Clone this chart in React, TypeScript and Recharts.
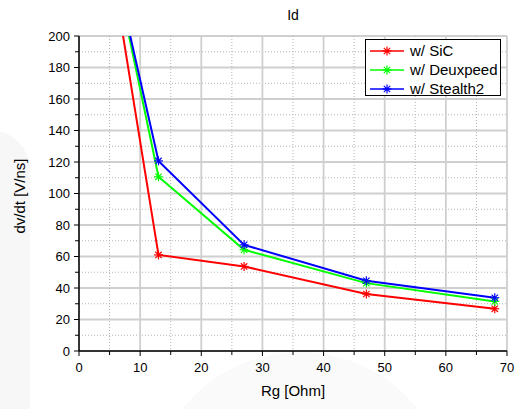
import React from 'react';
import { LineChart, Line, XAxis, YAxis, CartesianGrid } from 'recharts';

const rg = [5, 13, 27, 47, 68];
const sic = [253, 61, 53.7, 36.2, 26.8];
const deuxpeed = [259, 110.6, 64.3, 43.1, 31.5];
const stealth2 = [258, 120.7, 67.4, 44.6, 33.8];

const xTicks = [0, 5, 10, 15, 20, 25, 30, 35, 40, 45, 50, 55, 60, 65, 70];
const yTicks = [0, 10, 20, 30, 40, 50, 60, 70, 80, 90, 100, 110, 120, 130, 140, 150, 160, 170, 180, 190, 200];

const seriesKeys = ['sic', 'deuxpeed', 'stealth2'];
const seriesNames = ['w/ SiC', 'w/ Deuxpeed', 'w/ Stealth2'];
const seriesColors = ['#ff0000', '#00ff00', '#0000ff'];

const title = 'Id';
const xTitle = 'Rg [Ohm]';
const yTitle = 'dv/dt [V/ns]';

const data = rg.map((x, i) => ({ rg: x, sic: sic[i], deuxpeed: deuxpeed[i], stealth2: stealth2[i] }));

const FONT = '"Liberation Sans", Arial, sans-serif';

const Star = ({ cx, cy, color, r = 4.5 }: any) => {
  if (cx == null || cy == null) return <g />;
  const d = r * 0.7071;
  return (
    <g>
      <line x1={cx - r} y1={cy} x2={cx + r} y2={cy} stroke={color} strokeWidth={1.2} />
      <line x1={cx} y1={cy - r} x2={cx} y2={cy + r} stroke={color} strokeWidth={1.2} />
      <line x1={cx - d} y1={cy - d} x2={cx + d} y2={cy + d} stroke={color} strokeWidth={1.2} />
      <line x1={cx - d} y1={cy + d} x2={cx + d} y2={cy - d} stroke={color} strokeWidth={1.2} />
      <circle cx={cx} cy={cy} r={1.6} fill={color} />
    </g>
  );
};

const makeDot = (color: string) => (p: any) => <Star key={p.key} cx={p.cx} cy={p.cy} color={color} />;

const BottomTick = (p: any) => {
  const { x, y, payload } = p;
  const major = payload.value % 10 === 0;
  return (
    <g>
      <line x1={x} x2={x} y1={y} y2={y + (major ? 5 : 4)} stroke="#000" strokeWidth={1} />
      {major && (
        <text x={x} y={y + 21} textAnchor="middle" fontSize={13} fontFamily={FONT} fill="#000">
          {payload.value}
        </text>
      )}
    </g>
  );
};

const LeftTick = (p: any) => {
  const { x, y, payload } = p;
  const major = payload.value % 20 === 0;
  return (
    <g>
      <line x1={x} x2={x - (major ? 5 : 4)} y1={y} y2={y} stroke="#000" strokeWidth={1} />
      {major && (
        <text x={x - 9} y={y + 4.6} textAnchor="end" fontSize={13} fontFamily={FONT} fill="#000">
          {payload.value}
        </text>
      )}
    </g>
  );
};

const TopTick = (p: any) => {
  const { x, y, payload } = p;
  const major = payload.value % 10 === 0;
  return <line x1={x} x2={x} y1={y} y2={y - (major ? 3 : 2)} stroke="#000" strokeWidth={1} />;
};

const RightTick = (p: any) => {
  const { x, y, payload } = p;
  const major = payload.value % 20 === 0;
  return <line x1={x} x2={x + (major ? 3 : 2)} y1={y} y2={y} stroke="#000" strokeWidth={1} />;
};

const gridLine = (p: any) => {
  const { x1, y1, x2, y2, index, key } = p;
  const major = index % 2 === 0;
  return (
    <line
      key={key}
      x1={x1}
      y1={y1}
      x2={x2}
      y2={y2}
      stroke={major ? '#cfcfcf' : '#b4b4b4'}
      strokeWidth={major ? 1.8 : 1}
      strokeDasharray={major ? undefined : '1 2'}
    />
  );
};

export default function App() {
  return (
    <div style={{ position: 'absolute', left: 0, top: 0, width: 517, height: 409, background: '#fff', fontFamily: FONT, overflow: 'hidden' }}>
      <div style={{ position: 'absolute', left: -20, top: 130, width: 50, height: 300, borderTopRightRadius: 40, background: '#f7f7f7' }} />
      <div style={{ position: 'absolute', left: 150, top: 352, width: 300, height: 300, borderRadius: '50%', background: '#fafafa' }} />
      <div style={{ position: 'absolute', left: 0, top: 0 }}>
        <LineChart width={517} height={409} data={data} margin={{ top: 36, right: 10, bottom: 0, left: 0 }}>
          <XAxis
            xAxisId="b"
            dataKey="rg"
            type="number"
            domain={[0, 70]}
            ticks={xTicks}
            interval={0}
            allowDataOverflow
            height={58}
            tickSize={0}
            tickMargin={0}
            tick={BottomTick}
            axisLine={{ stroke: '#000', strokeWidth: 1.5 }}
            tickLine={false}
          />
          <XAxis
            xAxisId="t"
            orientation="top"
            dataKey="rg"
            type="number"
            domain={[0, 70]}
            ticks={xTicks}
            interval={0}
            allowDataOverflow
            height={0}
            tickSize={0}
            tickMargin={0}
            tick={TopTick}
            axisLine={{ stroke: '#000', strokeWidth: 1.5 }}
            tickLine={false}
          />
          <YAxis
            yAxisId="l"
            type="number"
            domain={[0, 200]}
            ticks={yTicks}
            interval={0}
            allowDataOverflow
            width={79}
            tickSize={0}
            tickMargin={0}
            tick={LeftTick}
            axisLine={{ stroke: '#000', strokeWidth: 1.5 }}
            tickLine={false}
          />
          <YAxis
            yAxisId="r"
            orientation="right"
            type="number"
            domain={[0, 200]}
            ticks={yTicks}
            interval={0}
            allowDataOverflow
            width={0}
            tickSize={0}
            tickMargin={0}
            tick={RightTick}
            axisLine={{ stroke: '#000', strokeWidth: 1.5 }}
            tickLine={false}
          />
          <CartesianGrid xAxisId="b" yAxisId="l" horizontal={gridLine} vertical={gridLine} />
          {seriesKeys.map((k, i) => (
            <Line
              key={k}
              xAxisId="b"
              yAxisId="l"
              dataKey={k}
              type="linear"
              stroke={seriesColors[i]}
              strokeWidth={2}
              dot={makeDot(seriesColors[i])}
              activeDot={false}
              isAnimationActive={false}
            />
          ))}
        </LineChart>
      </div>
      <div style={{ position: 'absolute', left: 0, width: 586, top: 5, textAlign: 'center', fontSize: 14, lineHeight: '20px', color: '#000' }}>{title}</div>
      <div style={{ position: 'absolute', left: 0, width: 586, top: 381, textAlign: 'center', fontSize: 15, lineHeight: '20px', color: '#000' }}>{xTitle}</div>
      <div
        style={{
          position: 'absolute',
          left: 20,
          top: 196,
          transform: 'translate(-50%, -50%) rotate(-90deg)',
          fontSize: 15,
          lineHeight: '20px',
          whiteSpace: 'nowrap',
          color: '#000',
        }}
      >
        {yTitle}
      </div>
      <div
        style={{
          position: 'absolute',
          left: 365,
          top: 39,
          width: 136,
          height: 57,
          border: '1px solid #000',
          background: '#fff',
          boxSizing: 'border-box',
        }}
      >
        {seriesNames.map((n, i) => (
          <div key={n} style={{ position: 'absolute', left: 4, top: 1 + i * 19, height: 19, display: 'flex', alignItems: 'center' }}>
            <svg width={36} height={14} style={{ display: 'block' }}>
              <line x1={0} y1={7} x2={34} y2={7} stroke={seriesColors[i]} strokeWidth={1.6} />
              <Star cx={17} cy={7} color={seriesColors[i]} />
            </svg>
            <span style={{ fontSize: 15, marginLeft: 4, color: '#000', whiteSpace: 'nowrap' }}>{n}</span>
          </div>
        ))}
      </div>
    </div>
  );
}
